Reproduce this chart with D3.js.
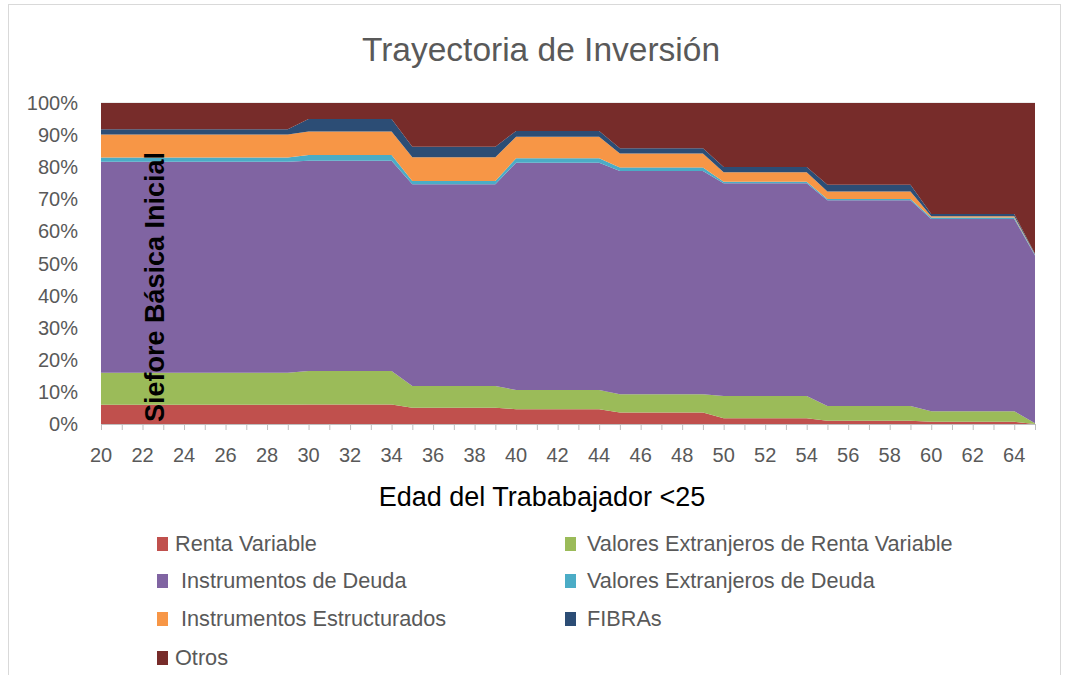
<!DOCTYPE html>
<html>
<head>
<meta charset="utf-8">
<script src="https://cdn.jsdelivr.net/npm/d3@7"></script>
<style>
  body { margin: 0; background: #fff; }
  svg text { font-family: "Liberation Sans", Arial, sans-serif; }
</style>
</head>
<body>
<svg id="chart" width="1066" height="675"></svg>
<script>
// ages on the x axis
const ages = [20,21,22,23,24,25,26,27,28,29,30,31,32,33,34,35,36,37,38,39,40,41,42,43,44,45,46,47,48,49,50,51,52,53,54,55,56,57,58,59,60,61,62,63,64,65];

// % per asset class (one value per age)
const rentaVariable = [6,6,6,6,6,6,6,6,6,6, 6.1,6.1,6.1,6.1,6.1, 5.1,5.1,5.1,5.1,5.1, 4.6,4.6,4.6,4.6,4.6, 3.6,3.6,3.6,3.6,3.6, 1.8,1.8,1.8,1.8,1.8, 1,1,1,1,1, 0.7,0.7,0.7,0.7,0.7, 0];
const valExtRV      = [10,10,10,10,10,10,10,10,10,10, 10.4,10.4,10.4,10.4,10.4, 6.7,6.7,6.7,6.7,6.7, 6,6,6,6,6, 5.7,5.7,5.7,5.7,5.7, 6.9,6.9,6.9,6.9,6.9, 4.6,4.6,4.6,4.6,4.6, 3.3,3.3,3.3,3.3,3.3, 0.2];
const instDeuda     = [65.7,65.7,65.7,65.7,65.7,65.7,65.7,65.7,65.7,65.7, 65.5,65.5,65.5,65.5,65.5, 62.9,62.9,62.9,62.9,62.9, 70.8,70.8,70.8,70.8,70.8, 69.5,69.5,69.5,69.5,69.5, 66.3,66.3,66.3,66.3,66.3, 64.1,64.1,64.1,64.1,64.1, 59.9,59.9,59.9,59.9,59.9, 52.3];
const valExtDeuda   = [1.3,1.3,1.3,1.3,1.3,1.3,1.3,1.3,1.3,1.3, 1.8,1.8,1.8,1.8,1.8, 1,1,1,1,1, 1.4,1.4,1.4,1.4,1.4, 1.1,1.1,1.1,1.1,1.1, 0.5,0.5,0.5,0.5,0.5, 0.4,0.4,0.4,0.4,0.4, 0.4,0.4,0.4,0.4,0.4, 0.2];
const instEstruct   = [7.2,7.2,7.2,7.2,7.2,7.2,7.2,7.2,7.2,7.2, 7.3,7.3,7.3,7.3,7.3, 7.4,7.4,7.4,7.4,7.4, 6.7,6.7,6.7,6.7,6.7, 4.4,4.4,4.4,4.4,4.4, 2.9,2.9,2.9,2.9,2.9, 2.3,2.3,2.3,2.3,2.3, 0.4,0.4,0.4,0.4,0.4, 0.1];
const fibras        = [1.6,1.6,1.6,1.6,1.6,1.6,1.6,1.6,1.6,1.6, 3.9,3.9,3.9,3.9,3.9, 3.3,3.3,3.3,3.3,3.3, 1.8,1.8,1.8,1.8,1.8, 1.6,1.6,1.6,1.6,1.6, 1.7,1.7,1.7,1.7,1.7, 2.1,2.1,2.1,2.1,2.1, 0.7,0.7,0.7,0.7,0.7, 0.2];
const otros         = [8.2,8.2,8.2,8.2,8.2,8.2,8.2,8.2,8.2,8.2, 5,5,5,5,5, 13.6,13.6,13.6,13.6,13.6, 8.7,8.7,8.7,8.7,8.7, 14.1,14.1,14.1,14.1,14.1, 19.9,19.9,19.9,19.9,19.9, 25.5,25.5,25.5,25.5,25.5, 34.6,34.6,34.6,34.6,34.6, 47];

const seriesNames = ["Renta Variable", "Valores Extranjeros de Renta Variable", "Instrumentos de Deuda",
  "Valores Extranjeros de Deuda", "Instrumentos Estructurados", "FIBRAs", "Otros"];
const seriesValues = [rentaVariable, valExtRV, instDeuda, valExtDeuda, instEstruct, fibras, otros];
const colors = ["#c0504d", "#9bbb59", "#8064a2", "#4bacc6", "#f79646", "#2c4d75", "#772c2a"];
const yTicks = [0,10,20,30,40,50,60,70,80,90,100];
const xLabels = [20,22,24,26,28,30,32,34,36,38,40,42,44,46,48,50,52,54,56,58,60,62,64];

const svg = d3.select("#chart");

// outer chart border
svg.append("rect")
  .attr("x", 8.5).attr("y", 4.5).attr("width", 1052).attr("height", 690)
  .attr("fill", "none").attr("stroke", "#d9d9d9");

const x = d3.scaleLinear().domain([20, 65]).range([101, 1035]);
const y = d3.scaleLinear().domain([0, 100]).range([424, 103]);

// table for the stack
const table = ages.map((a, i) => {
  const row = {age: a};
  seriesNames.forEach((n, k) => row[n] = seriesValues[k][i]);
  return row;
});
const stacked = d3.stack().keys(seriesNames)(table);

// gridlines
svg.append("g").selectAll("line")
  .data(yTicks.slice(1))
  .enter().append("line")
  .attr("x1", x(20)).attr("x2", x(65))
  .attr("y1", d => y(d)).attr("y2", d => y(d))
  .attr("stroke", "#d9d9d9");

const area = d3.area()
  .x(d => x(d.data.age))
  .y0(d => y(d[0]))
  .y1(d => y(d[1]));

svg.append("g").selectAll("path")
  .data(stacked)
  .enter().append("path")
  .attr("fill", (d, i) => colors[i])
  .attr("d", area);

// y axis labels
svg.append("g").selectAll("text")
  .data(yTicks)
  .enter().append("text")
  .attr("x", 78).attr("y", d => y(d) + 7)
  .attr("text-anchor", "end")
  .attr("font-size", "20px")
  .attr("fill", "#595959")
  .text(d => d + "%");

// x axis
const xAxis = svg.append("g")
  .attr("transform", "translate(0,424)")
  .call(d3.axisBottom(x).tickValues(ages).tickSize(6).tickFormat(""));
xAxis.select(".domain").attr("stroke", "#bfbfbf");
xAxis.selectAll(".tick line").attr("stroke", "#bfbfbf");

svg.append("g").selectAll("text")
  .data(xLabels)
  .enter().append("text")
  .attr("x", d => x(d)).attr("y", 462)
  .attr("text-anchor", "middle")
  .attr("font-size", "20px")
  .attr("fill", "#595959")
  .text(d => d);

// titles
svg.append("text")
  .attr("x", 541).attr("y", 61)
  .attr("text-anchor", "middle")
  .attr("font-size", "33.5px")
  .attr("fill", "#595959")
  .text("Trayectoria de Inversión");

svg.append("text")
  .attr("x", 542).attr("y", 506)
  .attr("text-anchor", "middle")
  .attr("font-size", "27px")
  .attr("fill", "#000")
  .text("Edad del Trababajador <25");

svg.append("text")
  .attr("transform", "translate(164,287) rotate(-90)")
  .attr("text-anchor", "middle")
  .attr("font-size", "27px")
  .attr("font-weight", "bold")
  .attr("fill", "#000")
  .text("Siefore Básica Inicial");

// legend
const legendPos = [[157,544],[565,544],[157,581],[565,581],[157,619],[565,619],[157,658]];
const legendText = ["Renta Variable", "Valores Extranjeros de Renta Variable", " Instrumentos de Deuda",
  "Valores Extranjeros de Deuda", " Instrumentos Estructurados", "FIBRAs", "Otros"];
const legend = svg.append("g").selectAll("g")
  .data(seriesNames)
  .enter().append("g")
  .attr("transform", (d, i) => "translate(" + legendPos[i][0] + "," + legendPos[i][1] + ")");
legend.append("rect")
  .attr("x", 0).attr("y", -7).attr("width", 11).attr("height", 14)
  .attr("fill", (d, i) => colors[i]);
legend.append("text")
  .attr("x", (d, i) => i % 2 === 0 ? 18 : 22)
  .attr("y", 7)
  .attr("font-size", "21.7px")
  .attr("fill", "#595959")
  .attr("xml:space", "preserve")
  .style("white-space", "pre")
  .text((d, i) => legendText[i]);
</script>
</body>
</html>
